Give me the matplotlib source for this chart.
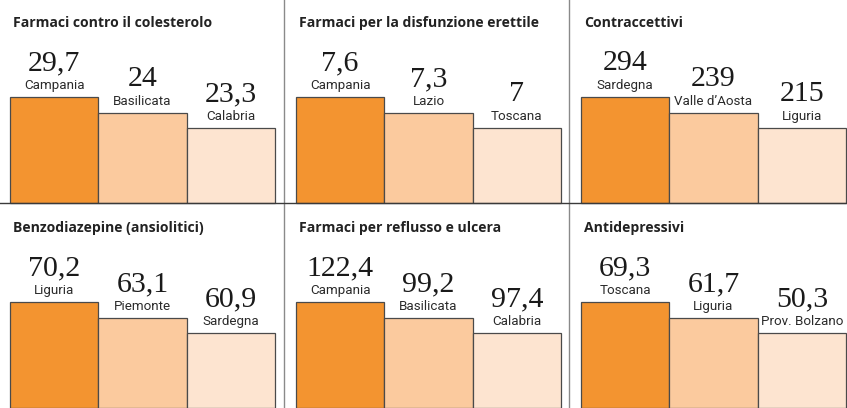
import matplotlib
matplotlib.use("Agg")
import matplotlib.pyplot as plt
from matplotlib.lines import Line2D

# --- data -------------------------------------------------------------
titles = [
    "Farmaci contro il colesterolo",
    "Farmaci per la disfunzione erettile",
    "Contraccettivi",
    "Benzodiazepine (ansiolitici)",
    "Farmaci per reflusso e ulcera",
    "Antidepressivi",
]
regions = [
    ["Campania", "Basilicata", "Calabria"],
    ["Campania", "Lazio", "Toscana"],
    ["Sardegna", "Valle d\u2019Aosta", "Liguria"],
    ["Liguria", "Piemonte", "Sardegna"],
    ["Campania", "Basilicata", "Calabria"],
    ["Toscana", "Liguria", "Prov. Bolzano"],
]
values = [
    [29.7, 24, 23.3],
    [7.6, 7.3, 7],
    [294, 239, 215],
    [70.2, 63.1, 60.9],
    [122.4, 99.2, 97.4],
    [69.3, 61.7, 50.3],
]

# bars are drawn as a ranked "podium", not to scale (same in every panel)
rank_heights = [106, 90, 75]
bar_colors = ["#F39430", "#FBCA9E", "#FDE4D0"]

W, H = 847, 408
TITLE_FONT = ["Open Sans", "DejaVu Sans"]
LABEL_FONT = ["Roboto", "DejaVu Sans"]
NUM_FONT = ["Liberation Serif", "DejaVu Serif"]


def fmt(v):
    s = f"{v:g}"
    return s.replace(".", ",")


fig = plt.figure(figsize=(W / 100, H / 100), dpi=100)
fig.patch.set_facecolor("white")

panel_left = [10, 296, 581]
panel_width = 265
row_base = [203, 408]   # pixel y of the bar baseline, from top
row_height = 203

for i, title in enumerate(titles):
    row, col = divmod(i, 3)
    x0 = panel_left[col]
    base = row_base[row]
    ax = fig.add_axes([x0 / W, (H - base) / H, panel_width / W, row_height / H])
    ax.set_xlim(0, 3)
    ax.set_ylim(0, row_height)
    ax.axis("off")

    xs = [0.5, 1.5, 2.5]
    ax.bar(xs, rank_heights, width=1.0, color=bar_colors,
           edgecolor="#4a4a4a", linewidth=0.9, clip_on=False)

    for x, h, v, reg in zip(xs, rank_heights, values[i], regions[i]):
        ax.text(x, h + 8, reg, ha="center", va="baseline", clip_on=False,
                fontsize=9.6, family=LABEL_FONT, color="#2a2a2a")
        ax.text(x, h + 27, fmt(v), ha="center", va="baseline",
                fontsize=21.5, family=NUM_FONT, color="#1a1a1a")

    ax.text(0.03, 176, title, ha="left", va="baseline", fontsize=10.1,
            family=TITLE_FONT, fontweight="bold", color="#222222")

# panel dividers
for xd in (284, 569):
    fig.add_artist(Line2D([xd / W, xd / W], [0, 1], transform=fig.transFigure,
                          color="#8a8a8a", linewidth=1.0))
# row separator
fig.add_artist(Line2D([0, 1], [(H - 203) / H] * 2, transform=fig.transFigure,
                      color="#3a3a3a", linewidth=1.0))

fig.savefig("out.png", dpi=100, facecolor="white")
